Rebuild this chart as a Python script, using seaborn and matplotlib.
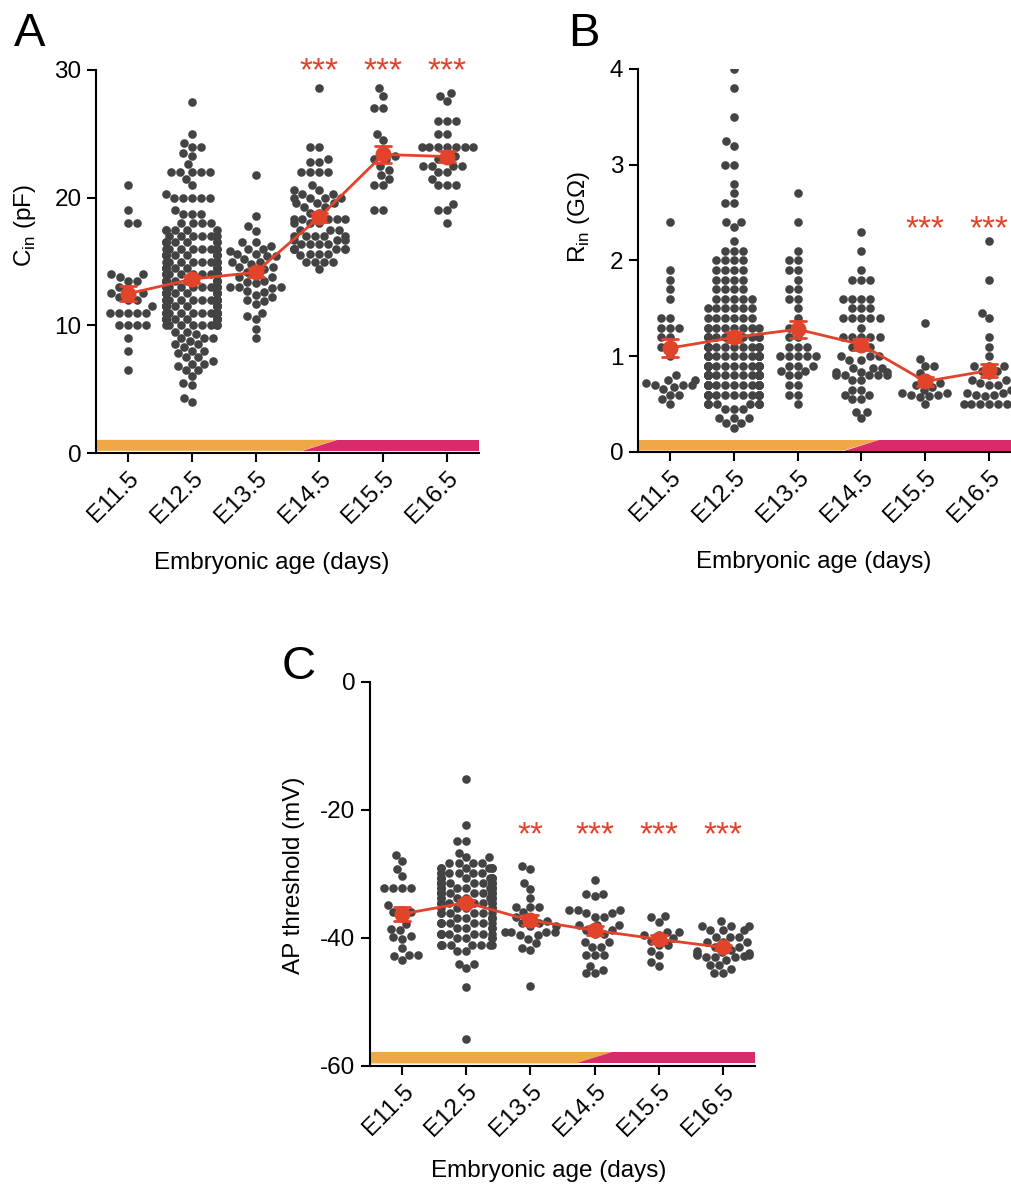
import warnings
import pandas as pd
import numpy as np
import matplotlib
matplotlib.use('Agg')
import matplotlib.pyplot as plt
import seaborn as sns

warnings.filterwarnings('ignore')

ages = ['E11.5', 'E12.5', 'E13.5', 'E14.5', 'E15.5', 'E16.5']

# ---- panel A: input capacitance (pF), one value per cell ----
cin_e11 = [21.0, 19.0, 18.0, 18.0, 14.0, 14.0, 13.8, 13.5, 13.5, 13.0, 12.8, 12.5,
           12.5, 12.2, 12.0, 12.0, 11.5, 11.0, 11.0, 11.0, 11.0, 11.0, 10.0, 10.0,
           10.0, 10.0, 9.0, 8.0, 6.5]
cin_e12 = [27.5, 25.0, 24.3, 24.0, 24.0, 23.5, 23.3, 22.6, 22.0, 22.0, 22.0, 22.0, 22.0,
           21.5, 21.0, 20.3, 20.0, 20.0, 20.0, 20.0, 20.0, 19.0, 18.7, 18.7, 18.7,
           18.0, 18.0, 18.0, 18.0,
           17.5, 17.5, 17.5, 17.5, 17.5,
           17.0, 17.0, 17.0, 17.0, 17.0, 17.0,
           16.5, 16.5, 16.5, 16.5, 16.5, 16.5, 16.5,
           16.0, 16.0, 16.0, 16.0, 16.0, 16.0, 16.0, 16.0,
           15.5, 15.5, 15.5, 15.5, 15.5, 15.5, 15.5, 15.5, 15.5,
           15.0, 15.0, 15.0, 15.0, 15.0, 15.0, 15.0, 15.0, 15.0,
           14.5, 14.5, 14.5, 14.5, 14.5, 14.5, 14.5, 14.5, 14.5,
           14.0, 14.0, 14.0, 14.0, 14.0, 14.0, 14.0, 14.0, 14.0, 14.0, 14.0, 14.0,
           13.5, 13.5, 13.5, 13.5, 13.5, 13.5, 13.5, 13.5, 13.5, 13.5, 13.5,
           13.0, 13.0, 13.0, 13.0, 13.0, 13.0, 13.0, 13.0, 13.0, 13.0, 13.0, 13.0,
           12.5, 12.5, 12.5, 12.5, 12.5, 12.5, 12.5, 12.5, 12.5, 12.5, 12.5, 12.5, 12.5,
           12.0, 12.0, 12.0, 12.0, 12.0, 12.0, 12.0, 12.0, 12.0, 12.0, 12.0, 12.0, 12.0,
           11.5, 11.5, 11.5, 11.5, 11.5, 11.5, 11.5, 11.5, 11.5, 11.5, 11.5, 11.5, 11.5,
           11.0, 11.0, 11.0, 11.0, 11.0, 11.0, 11.0, 11.0, 11.0, 11.0, 11.0, 11.0, 11.0,
           11.0, 11.0,
           10.5, 10.5, 10.5, 10.5, 10.5, 10.5, 10.5, 10.5, 10.5, 10.5, 10.5, 10.5, 10.5,
           10.0, 10.0, 10.0, 10.0, 10.0, 10.0, 10.0, 10.0,
           9.5, 9.5, 9.3, 9.0, 9.0, 9.0, 8.8, 8.5, 8.5, 8.3, 8.0, 8.0, 7.8, 7.5, 7.5,
           7.2, 7.0, 7.0, 6.8, 6.5, 6.5, 6.0, 5.5, 5.3, 4.3, 4.0]
cin_e13 = [21.8, 18.6, 17.8, 17.4, 16.5, 16.5, 16.2, 16.0, 16.0, 15.8, 15.6, 15.6,
           15.4, 15.4, 15.2, 15.0, 15.0, 14.8, 14.6, 14.6, 14.4, 14.2, 14.2, 13.8,
           13.8, 13.5, 13.4, 13.3, 13.0, 13.0, 13.0, 12.9, 12.7, 12.6, 12.4, 12.2,
           12.0, 11.9, 11.7, 11.0, 10.7, 10.5, 9.7, 9.0]
cin_e14 = [28.6, 24.0, 24.0, 23.0, 22.8, 22.8, 22.0, 22.0, 22.0, 22.0, 21.0, 20.6,
           20.6, 20.3, 20.3, 20.0, 20.0, 20.0, 20.0, 19.6, 19.6, 19.6, 19.3, 19.3,
           18.8, 18.8, 18.3, 18.3, 18.3, 18.3, 18.3, 18.0, 18.0, 18.0, 17.5, 17.5,
           17.5, 17.0, 17.0, 17.0, 17.0, 17.0, 16.7, 16.7, 16.7, 16.4, 16.4, 16.4,
           16.4, 16.0, 16.0, 16.0, 16.0, 16.0, 16.0, 15.6, 15.6, 15.6, 15.5, 15.0,
           15.0, 15.0, 15.0, 14.4]
cin_e15 = [28.6, 28.0, 27.0, 27.0, 25.0, 24.5, 23.5, 23.3, 23.0, 23.0, 22.5, 22.2,
           21.8, 21.5, 21.0, 21.0, 19.0, 19.0]
cin_e16 = [28.2, 28.0, 27.6, 26.0, 26.0, 26.0, 25.0, 25.0, 24.0, 24.0, 24.0, 24.0,
           24.0, 24.0, 24.0, 23.3, 23.0, 23.0, 22.5, 22.5, 22.5, 22.5, 22.0, 22.0,
           21.5, 21.0, 21.0, 21.0, 19.5, 19.0, 19.0, 18.0]

# ---- panel B: input resistance (GOhm) ----
rin_e11 = [2.4, 1.9, 1.8, 1.7, 1.6, 1.4, 1.4, 1.3, 1.3, 1.3, 1.2, 1.2, 1.1, 1.1,
           1.0, 0.8, 0.75, 0.75, 0.72, 0.7, 0.7, 0.7, 0.68, 0.66, 0.6, 0.6, 0.55, 0.5]
rin_e12 = [4.0, 3.8, 3.5, 3.25, 3.2, 3.0, 3.0, 2.8, 2.7, 2.6, 2.6, 2.4, 2.4, 2.35, 2.2,
           2.1, 2.1, 2.1,
           2.0, 2.0, 2.0, 2.0,
           1.9, 1.9, 1.9, 1.9,
           1.8, 1.8, 1.8, 1.8,
           1.7, 1.7, 1.7, 1.7,
           1.6, 1.6, 1.6, 1.6, 1.6,
           1.5, 1.5, 1.5, 1.5, 1.5, 1.5,
           1.4, 1.4, 1.4, 1.4, 1.4, 1.4,
           1.3, 1.3, 1.3, 1.3, 1.3, 1.3, 1.3, 1.3,
           1.2, 1.2, 1.2, 1.2, 1.2, 1.2, 1.2, 1.2, 1.2, 1.2,
           1.1, 1.1, 1.1, 1.1, 1.1, 1.1, 1.1, 1.1, 1.1, 1.1, 1.1, 1.1,
           1.0, 1.0, 1.0, 1.0, 1.0, 1.0, 1.0, 1.0, 1.0, 1.0, 1.0, 1.0, 1.0, 1.0, 1.0,
           0.9, 0.9, 0.9, 0.9, 0.9, 0.9, 0.9, 0.9, 0.9, 0.9, 0.9, 0.9, 0.9, 0.9, 0.9, 0.9,
           0.8, 0.8, 0.8, 0.8, 0.8, 0.8, 0.8, 0.8, 0.8, 0.8, 0.8, 0.8, 0.8, 0.8, 0.8, 0.8,
           0.8,
           0.7, 0.7, 0.7, 0.7, 0.7, 0.7, 0.7, 0.7, 0.7, 0.7, 0.7, 0.7, 0.7, 0.7, 0.7, 0.7,
           0.6, 0.6, 0.6, 0.6, 0.6, 0.6, 0.6, 0.6, 0.6, 0.6, 0.6, 0.6, 0.6, 0.6,
           0.5, 0.5, 0.5, 0.5, 0.5, 0.5, 0.5, 0.5,
           0.45, 0.45, 0.45, 0.35, 0.35, 0.35, 0.3, 0.3, 0.25]
rin_e13 = [2.7, 2.4, 2.1, 2.0, 2.0, 1.9, 1.9, 1.8, 1.7, 1.7, 1.6, 1.6, 1.5, 1.4,
           1.3, 1.3, 1.2, 1.2, 1.1, 1.1, 1.1, 1.0, 1.0, 1.0, 1.0, 1.0, 0.9, 0.9,
           0.9, 0.85, 0.85, 0.8, 0.8, 0.7, 0.7, 0.6, 0.6, 0.5]
rin_e14 = [2.3, 2.1, 1.9, 1.8, 1.8, 1.8, 1.6, 1.6, 1.6, 1.6, 1.5, 1.5, 1.5, 1.4,
           1.4, 1.4, 1.4, 1.4, 1.3, 1.2, 1.2, 1.2, 1.2, 1.2, 1.1, 1.1, 1.1, 1.0,
           1.0, 1.0, 0.96, 0.96, 0.88, 0.88, 0.88, 0.84, 0.84, 0.84, 0.8, 0.8,
           0.8, 0.8, 0.8, 0.75, 0.75, 0.65, 0.65, 0.6, 0.6, 0.55, 0.55, 0.42,
           0.42, 0.35]
rin_e15 = [1.35, 0.97, 0.9, 0.9, 0.82, 0.75, 0.72, 0.7, 0.68, 0.65, 0.62, 0.62,
           0.6, 0.6, 0.58, 0.57, 0.5]
rin_e16 = [2.2, 1.8, 1.45, 1.4, 1.2, 1.1, 1.0, 0.9, 0.9, 0.9, 0.85, 0.85, 0.8,
           0.75, 0.75, 0.75, 0.72, 0.7, 0.7, 0.65, 0.62, 0.62, 0.6, 0.6, 0.58,
           0.5, 0.5, 0.5, 0.5, 0.5, 0.5]

# ---- panel C: AP threshold (mV) ----
apt_e11 = [-27.0, -28.0, -29.2, -30.3, -32.2, -32.2, -32.2, -32.2, -34.8, -35.9,
           -35.9, -35.9, -37.8, -38.6, -38.8, -39.7, -39.9, -40.1, -41.6, -42.6,
           -42.6, -42.8, -43.4]
apt_e12 = [-15.2, -22.4, -24.8, -24.8, -26.7, -27.4, -27.4,
           -28.3, -28.3, -28.3, -28.3,
           -29.1, -29.1, -29.1, -29.1, -29.1, -29.1,
           -29.9, -29.9, -29.9, -29.9, -29.9, -29.9,
           -30.7, -30.7, -30.7, -30.7, -30.7, -30.7, -30.7, -30.7,
           -31.4, -31.4, -31.4, -31.4, -31.4, -31.4, -31.4, -31.4, -31.4, -31.4,
           -32.2, -32.2, -32.2, -32.2, -32.2, -32.2, -32.2, -32.2, -32.2, -32.2,
           -33.0, -33.0, -33.0, -33.0, -33.0, -33.0, -33.0, -33.0, -33.0, -33.0,
           -33.8, -33.8, -33.8, -33.8, -33.8, -33.8, -33.8, -33.8,
           -34.6, -34.6, -34.6, -34.6, -34.6, -34.6, -34.6, -34.6,
           -35.3, -35.3, -35.3, -35.3, -35.3, -35.3,
           -36.1, -36.1, -36.1, -36.1, -36.1, -36.1,
           -36.9, -36.9, -36.9, -36.9, -36.9,
           -37.7, -37.7, -37.7, -37.7, -37.7, -37.7, -37.7,
           -38.5, -38.5, -38.5, -38.5,
           -39.3, -39.3, -39.3, -39.3, -39.3, -39.3, -39.3, -39.3,
           -40.0, -40.0, -40.0, -40.0,
           -41.1, -41.1, -41.1, -41.1, -41.1, -41.1, -41.1, -41.1,
           -42.1, -42.1, -44.0, -44.0, -44.7, -47.7, -55.8]
apt_e13 = [-28.7, -29.2, -31.4, -32.3, -33.7, -35.1, -35.1, -35.1, -35.9, -36.7,
           -36.7, -37.3, -37.6, -37.6, -38.2, -38.2, -39.0, -39.0, -39.0, -39.0,
           -39.5, -39.5, -40.1, -40.8, -41.6, -41.9, -47.5]
apt_e14 = [-30.9, -33.1, -33.1, -33.5, -35.6, -35.6, -35.6, -36.1, -36.1, -36.7,
           -36.7, -38.0, -38.0, -38.0, -38.7, -38.7, -39.3, -39.3, -40.6, -40.6,
           -41.4, -41.4, -42.7, -42.7, -42.7, -44.3, -45.0, -45.5, -45.5]
apt_e15 = [-36.5, -36.7, -37.5, -39.0, -39.0, -39.5, -39.5, -40.0, -40.4, -41.1,
           -41.1, -42.0, -42.7, -43.7, -44.3]
apt_e16 = [-37.4, -38.2, -38.2, -38.2, -38.7, -38.7, -38.7, -39.8, -39.8, -39.8,
           -40.6, -40.6, -40.6, -41.4, -41.4, -41.8, -42.0, -42.2, -42.4, -42.5,
           -42.6, -42.7, -42.8, -42.9, -43.0, -43.0, -43.4, -44.2, -44.2, -44.8,
           -45.4, -45.4]

# significance marks vs E11.5
stars_a = ['', '', '', '***', '***', '***']
stars_b = ['', '', '', '', '***', '***']
stars_c = ['', '', '**', '***', '***', '***']

DOT = '#434343'
RED = '#E2432B'
ORANGE = '#EFA845'
PINK = '#D92A6C'


def make_frame(groups):
    parts = [pd.DataFrame({'age': a, 'value': v}) for a, v in zip(ages, groups)]
    return pd.concat(parts, ignore_index=True)


def draw_panel(ax, df, ylim, yticks, ylabel, band, stars, star_y, label_xy):
    sns.swarmplot(data=df, x='age', y='value', order=ages, color=DOT, size=6.2,
                  linewidth=0, warn_thresh=1, ax=ax)
    sns.pointplot(data=df, x='age', y='value', order=ages, color=RED,
                  errorbar='se', capsize=0.25, markersize=10, linewidth=2,
                  err_kws={'linewidth': 2}, ax=ax)
    for ln in ax.lines:
        ln.set_zorder(5)

    # developmental stage band along the bottom
    lo, hi = band
    ax.fill([-0.5, 2.72, 3.27, -0.5], [lo, lo, hi, hi], color=ORANGE, lw=0, zorder=0.5)
    ax.fill([2.72, 5.5, 5.5, 3.27], [lo, lo, hi, hi], color=PINK, lw=0, zorder=0.5)

    for i, s in enumerate(stars):
        if s:
            ax.text(i, star_y, s, ha='center', va='center', color=RED,
                    fontsize=24, clip_on=False)

    ax.set_xlim(-0.5, 5.5)
    ax.set_ylim(ylim)
    ax.set_yticks(yticks)
    ax.set_xticks(range(len(ages)))
    ax.set_xticklabels(ages, rotation=45, ha='right', rotation_mode='anchor')
    ax.tick_params(axis='both', direction='out', length=6.5, width=1.5,
                   labelsize=17.5, pad=4, color='black', labelcolor='black')
    ax.set_xlabel('Embryonic age (days)', fontsize=17.5)
    ax.xaxis.set_label_coords(label_xy[0], label_xy[1])
    ax.set_ylabel(ylabel, fontsize=17.5)
    ax.yaxis.label.set_verticalalignment('center')
    ax.yaxis.set_label_coords(label_xy[2], label_xy[3])
    sns.despine(ax=ax)
    for sp in ['left', 'bottom']:
        ax.spines[sp].set_linewidth(1.5)
        ax.spines[sp].set_color('black')


sns.set_style('ticks')
plt.rcParams['font.family'] = ['Liberation Sans', 'DejaVu Sans']
plt.rcParams['mathtext.fontset'] = 'custom'
plt.rcParams['mathtext.rm'] = 'Liberation Sans'
plt.rcParams['axes.unicode_minus'] = False
plt.rcParams['text.color'] = 'black'
plt.rcParams['axes.labelcolor'] = 'black'

W, H = 1011, 1192
fig = plt.figure(figsize=(W / 100, H / 100), dpi=100)

ax_a = fig.add_axes([96 / W, 1 - 453 / H, 383 / W, 383 / H])
ax_b = fig.add_axes([638 / W, 1 - 452 / H, 383 / W, 383 / H])
ax_c = fig.add_axes([370 / W, 1 - 1066 / H, 385 / W, 384 / H])

draw_panel(ax_a, make_frame([cin_e11, cin_e12, cin_e13, cin_e14, cin_e15, cin_e16]),
           (0, 30), [0, 10, 20, 30], r'C$_{\rm in}$ (pF)', (0.17, 1.03),
           stars_a, 29.9, (0.46, -0.258, -0.185, 0.595))
draw_panel(ax_b, make_frame([rin_e11, rin_e12, rin_e13, rin_e14, rin_e15, rin_e16]),
           (0, 4), [0, 1, 2, 3, 4], r'R$_{\rm in}$ (G$\Omega$)', (0.015, 0.125),
           stars_b, 2.32, (0.46, -0.258, -0.154, 0.613))
draw_panel(ax_c, make_frame([apt_e11, apt_e12, apt_e13, apt_e14, apt_e15, apt_e16]),
           (-60, 0), [-60, -40, -20, 0], 'AP threshold (mV)', (-59.6, -57.8),
           stars_c, -24, (0.465, -0.245, -0.197, 0.497))

fig.text(14 / W, 1 - 12 / H, 'A', fontsize=34, ha='left', va='top')
fig.text(568 / W, 1 - 12 / H, 'B', fontsize=34, ha='left', va='top')
fig.text(282 / W, 1 - 645 / H, 'C', fontsize=34, ha='left', va='top')

fig.savefig('out.png', dpi=100)
